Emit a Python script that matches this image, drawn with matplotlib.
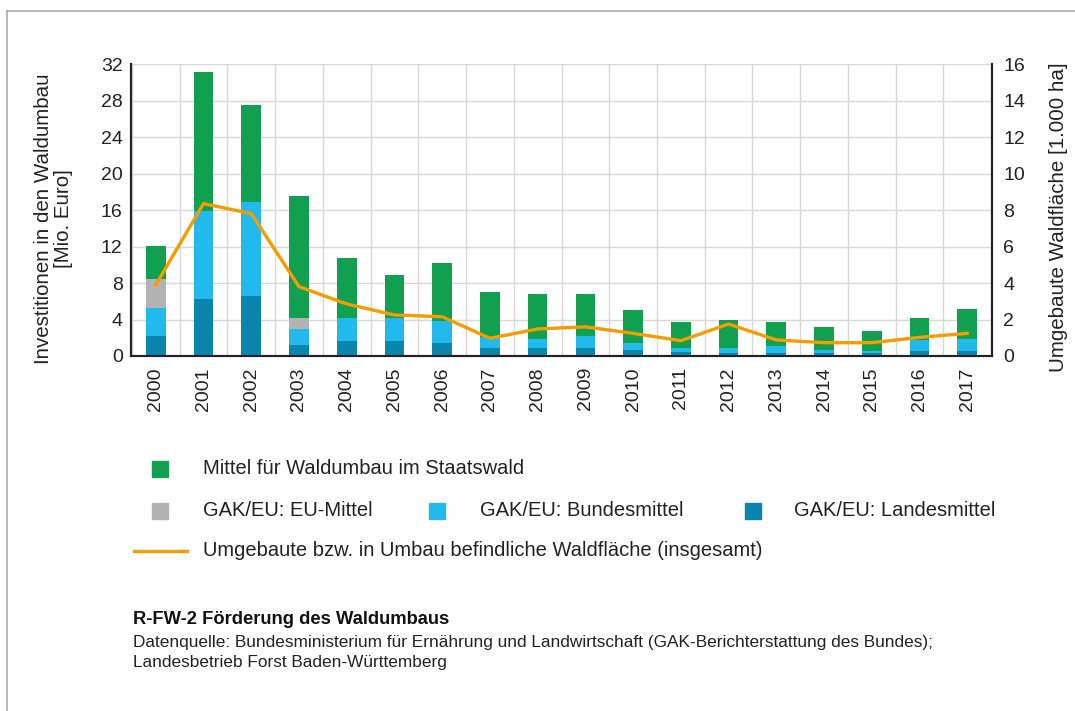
import matplotlib
matplotlib.use("Agg")
import matplotlib.pyplot as plt
import numpy as np
from matplotlib.lines import Line2D
from matplotlib.patches import Rectangle

plt.rcParams['font.family'] = ['Liberation Sans', 'DejaVu Sans']

years = [str(y) for y in range(2000, 2018)]
landesmittel = [2.2, 6.3, 6.6, 1.2, 1.6, 1.6, 1.4, 0.9, 0.9, 0.9, 0.66, 0.44, 0.36, 0.36, 0.3, 0.3, 0.6, 0.6]
bundesmittel = [3.1, 9.6, 10.3, 1.8, 2.6, 2.6, 2.4, 1.15, 1.0, 1.3, 0.74, 0.46, 0.48, 0.77, 0.36, 0.3, 1.15, 1.3]
eu_mittel = [3.1, 0, 0, 1.2, 0, 0, 0, 0, 0, 0, 0, 0, 0, 0, 0, 0, 0, 0]
staatswald = [3.65, 15.2, 10.6, 13.3, 6.5, 4.7, 6.4, 5.0, 4.9, 4.6, 3.6, 2.86, 3.16, 2.63, 2.54, 2.1, 2.45, 3.3]
flaeche = [3.9, 8.35, 7.8, 3.8, 2.85, 2.25, 2.15, 0.97, 1.48, 1.6, 1.24, 0.84, 1.75, 0.88, 0.73, 0.73, 1.02, 1.24]

labels = ["Mittel für Waldumbau im Staatswald", "GAK/EU: EU-Mittel",
          "GAK/EU: Bundesmittel", "GAK/EU: Landesmittel",
          "Umgebaute bzw. in Umbau befindliche Waldfläche (insgesamt)"]

c_green = "#11a04f"
c_gray = "#b3b3b3"
c_lblue = "#22b9ec"
c_dblue = "#0a86ad"
c_orange = "#f59c00"
txt = "#222222"

fig = plt.figure(figsize=(10.75, 7.11), dpi=100)
ax = fig.add_axes([131/1075, 1-356/711, (992-131)/1075, (356-64)/711])
ax2 = ax.twinx()

x = np.arange(len(years))
w = 0.41
l = np.array(landesmittel); b = np.array(bundesmittel); e = np.array(eu_mittel); s = np.array(staatswald)
ax.bar(x, l, w, color=c_dblue, zorder=3)
ax.bar(x, b, w, bottom=l, color=c_lblue, zorder=3)
ax.bar(x, e, w, bottom=l+b, color=c_gray, zorder=3)
ax.bar(x, s, w, bottom=l+b+e, color=c_green, zorder=3)

ax.set_xlim(-0.52, 17.52)
ax.set_ylim(0, 32)
ax.set_yticks(np.arange(0, 33, 4))
ax.set_xticks(x)
ax.set_xticklabels(years, rotation=90)
ax.set_xticks(np.arange(-0.5, 17.6, 1), minor=True)
ax.grid(True, which='minor', axis='x', color='#d8d8d8', lw=1, zorder=0)
ax.grid(True, which='major', axis='y', color='#d8d8d8', lw=1, zorder=0)
ax.tick_params(axis='both', which='both', length=0, labelsize=14, colors=txt, pad=6)
ax.tick_params(axis='x', pad=8)

ax2.plot(x, flaeche, color=c_orange, lw=2.4, zorder=5)
ax2.set_ylim(0, 16)
ax2.set_yticks(np.arange(0, 17, 2))
ax2.tick_params(axis='y', length=0, labelsize=14, colors=txt, pad=8)

for a in (ax, ax2):
    a.spines['top'].set_visible(False)
    for sp in ('left', 'right', 'bottom'):
        a.spines[sp].set_color('#222222')
        a.spines[sp].set_linewidth(1.5)

ax.set_ylabel("Investitionen in den Waldumbau\n[Mio. Euro]", fontsize=14.8, color=txt,
              linespacing=1.05)
ax.yaxis.set_label_coords((73 - 131) / 861, 0.47)
ax2.set_ylabel("Umgebaute Waldfläche [1.000 ha]", fontsize=14.8, color=txt)
ax2.yaxis.set_label_coords((1049 - 131) / 861, 0.475)

# Legend (custom, in figure pixels)
def fx(px): return px / 1075
def fy(py): return 1 - py / 711

def square(px, pyc, color):
    fig.patches.append(Rectangle((fx(px), fy(pyc + 8)), 16/1075, 16/711, color=color,
                                 transform=fig.transFigure, figure=fig))

fs_leg = 14.5
square(152, 469, c_green)
fig.text(fx(203), fy(469), labels[0], fontsize=fs_leg, color=txt, va='center')
square(152, 511, c_gray)
fig.text(fx(203), fy(511), labels[1], fontsize=fs_leg, color=txt, va='center')
square(429, 511, c_lblue)
fig.text(fx(480), fy(511), labels[2], fontsize=fs_leg, color=txt, va='center')
square(745, 511, c_dblue)
fig.text(fx(794), fy(511), labels[3], fontsize=fs_leg, color=txt, va='center')
fig.lines.append(Line2D([fx(134), fx(187)], [fy(551), fy(551)], color=c_orange, lw=2.4,
                        transform=fig.transFigure, figure=fig))
fig.text(fx(203), fy(551), labels[4], fontsize=fs_leg, color=txt, va='center')

fig.text(fx(133), fy(620), "R-FW-2 Förderung des Waldumbaus", fontsize=13.2, fontweight='bold',
         color='#111111', va='center')
fig.text(fx(133), fy(642), "Datenquelle: Bundesministerium für Ernährung und Landwirtschaft (GAK-Berichterstattung des Bundes);",
         fontsize=12.4, color=txt, va='center')
fig.text(fx(133), fy(662), "Landesbetrieb Forst Baden-Württemberg", fontsize=12.4, color=txt, va='center')

# border frame
fig.lines.append(Line2D([fx(7), fx(1075)], [fy(11), fy(11)], color='#aaaaaa', lw=1.2,
                        transform=fig.transFigure, figure=fig))
fig.lines.append(Line2D([fx(7), fx(7)], [fy(11), fy(711)], color='#aaaaaa', lw=1.2,
                        transform=fig.transFigure, figure=fig))

fig.savefig("out.png", dpi=100)
